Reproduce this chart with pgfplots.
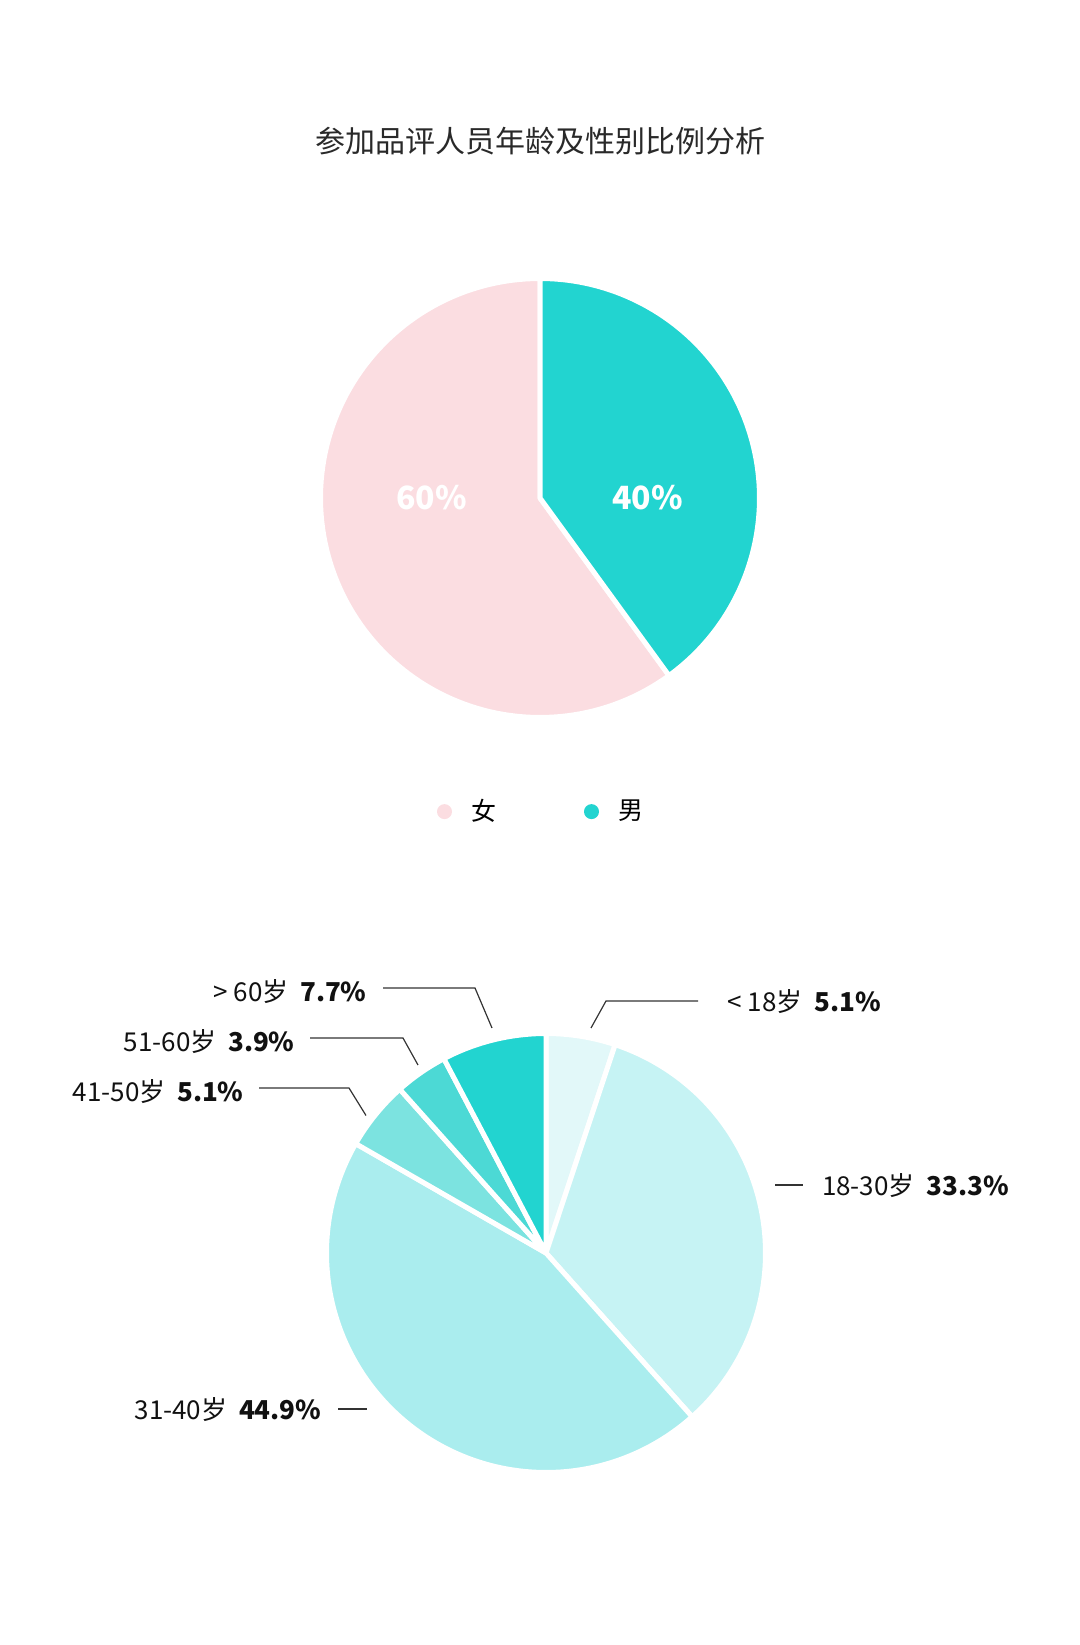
\documentclass[border=0pt]{standalone}
\usepackage{pgfplots}
\pgfplotsset{compat=1.18}
\usepackage{fontspec}
\setmainfont{Noto Sans CJK SC}

\definecolor{female}{HTML}{FBDDE1}
\definecolor{male}{HTML}{22D4D0}
\definecolor{ageA}{HTML}{E2F8F9}
\definecolor{ageB}{HTML}{C6F3F4}
\definecolor{ageC}{HTML}{AAEDEE}
\definecolor{ageD}{HTML}{7CE3E0}
\definecolor{ageE}{HTML}{4CD9D5}
\definecolor{ageF}{HTML}{22D4D0}
\definecolor{leader}{HTML}{333333}
\definecolor{ink}{HTML}{111111}

% gender shares (%)
\def\valFemale{60}
\def\valMale{40}
% age shares (%): <18, 18-30, 31-40, 41-50, 51-60, >60
\def\valA{5.1}
\def\valB{33.3}
\def\valC{44.9}
\def\valD{5.1}
\def\valE{3.9}
\def\valF{7.7}

% slice: cx, cy, angle from, angle to, colour
\newcommand{\slice}[5]{%
  \addplot[fill=#5, draw=white, line width=2.5pt, line join=round,
    domain=#3:#4, samples=120, variable=\t]
    ({#1+219.5*cos(\t)}, {#2+219.5*sin(\t)}) -- (axis cs:#1,#2) -- cycle;
}

\newcommand{\lbl}{\fontsize{13}{15.5}\selectfont\color{ink}}
\newcommand{\gap}{\hspace{0.45em}}

\begin{document}
\begin{tikzpicture}
% angles, clockwise from the top
\pgfmathsetmacro\gM{90-3.6*\valMale}
\pgfmathsetmacro\gF{\gM-3.6*\valFemale}
\pgfmathsetmacro\aA{90-3.6*\valA}
\pgfmathsetmacro\aB{\aA-3.6*\valB}
\pgfmathsetmacro\aC{\aB-3.6*\valC}
\pgfmathsetmacro\aD{\aC-3.6*\valD}
\pgfmathsetmacro\aE{\aD-3.6*\valE}
\pgfmathsetmacro\aF{\aE-3.6*\valF}
\begin{axis}[
  width=540pt, height=822.5pt, scale only axis,
  xmin=0, xmax=1080, ymin=0, ymax=1645,
  hide axis, clip=false,
  legend columns=2,
  legend image code/.code={\fill (0pt,0pt) circle (3.75pt);},
  legend style={
    at={(0.5,0.5066)}, anchor=center,
    draw=none, fill=none,
    font=\fontsize{12.5}{15}\selectfont,
    nodes={inner sep=0pt},
    /tikz/every odd column/.append style={column sep=9.5pt},
    /tikz/every even column/.append style={column sep=44pt},
  },
]
\addlegendimage{fill=female, draw=none}
\addlegendentry{女}
\addlegendimage{fill=male, draw=none}
\addlegendentry{男}

\path (axis cs:0,0) rectangle (axis cs:1080,1645);

\node[font=\fontsize{15}{18}\selectfont, text=ink!90] at (axis cs:540,1504)
  {参加品评人员年龄及性别比例分析};

% gender pie
\slice{540}{1147}{\gF}{\gM}{female}
\slice{540}{1147}{\gM}{90}{male}
\node[text=white, font=\fontsize{16}{19}\selectfont\bfseries] at (axis cs:431.7,1147) {60\%};
\node[text=white, font=\fontsize{16}{19}\selectfont\bfseries] at (axis cs:647.5,1147) {40\%};

% age pie
\slice{546}{392}{\aA}{90}{ageA}
\slice{546}{392}{\aB}{\aA}{ageB}
\slice{546}{392}{\aC}{\aB}{ageC}
\slice{546}{392}{\aD}{\aC}{ageD}
\slice{546}{392}{\aE}{\aD}{ageE}
\slice{546}{392}{\aF}{\aE}{ageF}

% leader lines
\addplot[leader, line width=0.6pt, no marks] coordinates {(383,657) (475,657) (492,617)};
\addplot[leader, line width=0.6pt, no marks] coordinates {(310,607) (403,607) (418,580)};
\addplot[leader, line width=0.6pt, no marks] coordinates {(259,557) (349,557) (366,529.5)};
\addplot[leader, line width=0.6pt, no marks] coordinates {(698,644) (606,644) (591,617)};
\addplot[leader, line width=0.6pt, no marks] coordinates {(775,460) (803,460)};
\addplot[leader, line width=0.6pt, no marks] coordinates {(338,236) (366.7,236)};

\begin{scope}[every node/.style={inner sep=0pt, font=\lbl}]
\node[anchor=east] at (axis cs:367,653) {> 60岁\gap\textbf{7.7\%}};
\node[anchor=east] at (axis cs:295,603) {51-60岁\gap\textbf{3.9\%}};
\node[anchor=east] at (axis cs:244,553.5) {41-50岁\gap\textbf{5.1\%}};
\node[anchor=west] at (axis cs:727,643) {< 18岁\gap\textbf{5.1\%}};
\node[anchor=west] at (axis cs:821.7,459) {18-30岁\gap\textbf{33.3\%}};
\node[anchor=east] at (axis cs:321.7,235) {31-40岁\gap\textbf{44.9\%}};
\end{scope}
\end{axis}
\end{tikzpicture}
\end{document}
